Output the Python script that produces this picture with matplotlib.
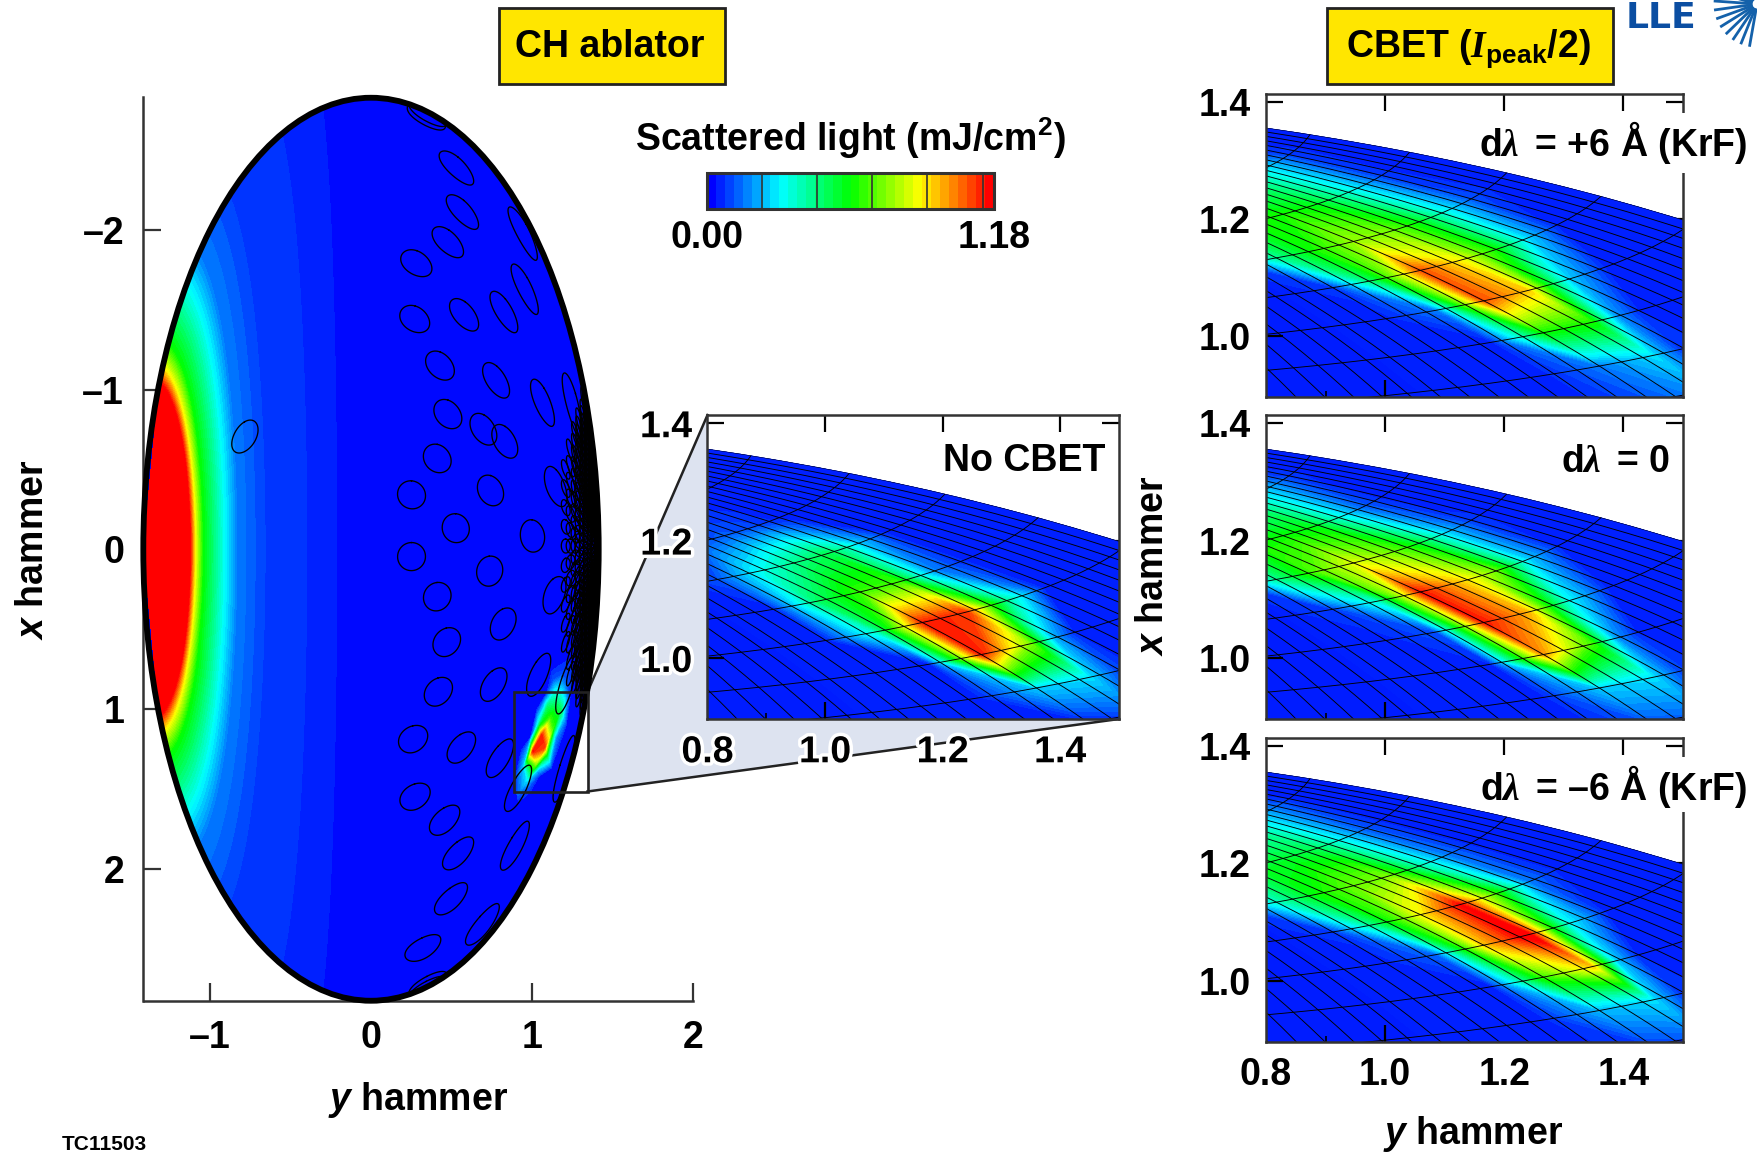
import numpy as np
import matplotlib
matplotlib.use('Agg')
import matplotlib.pyplot as plt
import matplotlib.patheffects as pe
from matplotlib.cm import ScalarMappable
from matplotlib.colors import LinearSegmentedColormap, Normalize
from matplotlib.patches import Ellipse, Polygon, Rectangle

plt.rcParams['font.family'] = ['Liberation Sans', 'DejaVu Sans']
plt.rcParams['font.weight'] = 'bold'
plt.rcParams['font.size'] = 27
plt.rcParams['mathtext.fontset'] = 'custom'
plt.rcParams['mathtext.rm'] = 'Liberation Sans:bold'
plt.rcParams['mathtext.bf'] = 'Liberation Sans:bold'
plt.rcParams['mathtext.it'] = 'Liberation Sans:italic:bold'
plt.rcParams['mathtext.cal'] = 'Liberation Serif:italic:bold'

W, H = 1758, 1152
DARK = '#333333'

# scattered light vs latitude on the big map (value 1 = red end of the scale)
left_lat = [-90, -68.4, -66.2, -62.9, -54, -49.2, -43, -38.4, -23, -12.2, 0, 90]
left_val = [1.2, 1.0, 0.75, 0.5, 0.25, 0.125, 0.088, 0.0625, 0.0417, 0.0208, 0.0, 0.0]

# zoomed panels: rows are latitudes, columns are longitudes
field_lon = [90, 100, 110, 120, 130, 135, 140, 150, 160, 170, 180]
field_lat = [46.8, 50.4, 54, 57.6, 61.2, 64.8, 68.4, 72, 75.6]
no_cbet = [
    [.03, .03, .03, .03, .08, .03, .03, .03, .03, .03, .03],
    [.03, .03, .04, .20, .22, .08, .03, .03, .03, .03, .03],
    [.03, .03, .03, .98, .62, .18, .03, .03, .03, .03, .03],
    [.03, .03, .30, .97, .95, .60, .35, .04, .03, .03, .03],
    [.03, .03, .40, .55, .55, .30, .13, .03, .03, .03, .03],
    [.03, .08, .25, .36, .42, .33, .20, .03, .03, .03, .03],
    [.03, .04, .07, .09, .07, .05, .03, .03, .03, .03, .03],
    [.03, .03, .03, .03, .03, .03, .03, .03, .03, .03, .03],
    [.03, .03, .03, .03, .03, .03, .03, .03, .03, .03, .03],
]
dl_plus6 = [
    [.03, .03, .03, .08, .15, .07, .04, .03, .03, .03, .03],
    [.03, .03, .03, .12, .22, .06, .04, .03, .03, .03, .03],
    [.03, .03, .03, .50, .52, .15, .04, .03, .03, .03, .03],
    [.03, .03, .12, .92, .80, .45, .20, .03, .03, .03, .03],
    [.03, .05, .45, .92, .75, .62, .50, .20, .03, .03, .03],
    [.05, .35, .52, .65, .62, .55, .47, .25, .08, .03, .03],
    [.15, .42, .50, .52, .48, .42, .35, .20, .05, .03, .03],
    [.03, .10, .20, .32, .35, .32, .28, .18, .06, .03, .03],
    [.03, .03, .03, .03, .03, .03, .03, .03, .03, .03, .03],
]
dl_zero = [
    [.03, .03, .03, .08, .11, .06, .04, .03, .03, .03, .03],
    [.03, .03, .03, .20, .22, .07, .04, .03, .03, .03, .03],
    [.03, .03, .04, .85, .55, .15, .03, .03, .03, .03, .03],
    [.03, .03, .08, .98, .82, .50, .25, .04, .03, .03, .03],
    [.03, .06, .30, .98, .80, .70, .60, .20, .04, .03, .03],
    [.05, .35, .58, .72, .62, .55, .45, .20, .05, .03, .03],
    [.15, .40, .50, .50, .48, .38, .28, .10, .03, .03, .03],
    [.03, .10, .20, .30, .33, .30, .25, .15, .05, .03, .03],
    [.03, .03, .03, .03, .03, .03, .03, .03, .03, .03, .03],
]
dl_minus6 = [
    [.03, .03, .03, .06, .10, .05, .04, .03, .03, .03, .03],
    [.03, .03, .03, .18, .22, .06, .04, .03, .03, .03, .03],
    [.03, .03, .03, .55, .80, .20, .03, .03, .03, .03, .03],
    [.03, .03, .10, .80, 1.05, .55, .25, .03, .03, .03, .03],
    [.03, .05, .40, .75, 1.00, .75, .55, .12, .03, .03, .03],
    [.05, .30, .50, .60, .62, .48, .33, .12, .03, .03, .03],
    [.12, .35, .45, .45, .42, .35, .26, .10, .03, .03, .03],
    [.03, .08, .20, .28, .30, .26, .22, .12, .04, .03, .03],
    [.03, .03, .03, .03, .03, .03, .03, .03, .03, .03, .03],
]

# beam footprints on the big map, centre positions in hammer units
beam_h = [.345, .532, .569, .945, .478, .282, .957, .827, .579, .272, .429, .778,
          1.067, 1.252, .478, .699, .832, .412, -.784, 1.149, .743, .252, .527,
          1.004, .252, .738, .412, 1.141, .822, .471, .419, .763, 1.043, 1.215,
          .262, .562, .802, 1.203, .915, .274, .458, .542, .896, .498, .694,
          .323, .355]
beam_v = [-2.716, -2.393, -2.116, -1.983, -1.926, -1.793, -1.633, -1.489, -1.47,
          -1.443, -1.151, -1.059, -.919, -.904, -.847, -.752, -.676, -.569, -.706,
          -.391, -.368, -.341, -.132, -.083, .046, .137, .297, .286, .468, .582,
          .893, .848, .787, .848, 1.19, 1.243, 1.311, 1.38, 1.501, 1.551, 1.699,
          1.908, 1.862, 2.193, 2.356, 2.501, 2.736]
beam_radius = 5.0

# small dense footprints near the pole: column position, first row, last row, row step
cluster_h = [1.21, 1.24, 1.27, 1.295, 1.32, 1.345, 1.37, 1.39, 1.41]
cluster_v_from = [-.50, -.62, -.72, -.80, -.85, -.85, -.80, -.60, -.45]
cluster_v_to = [.70, .80, .88, .94, .97, .95, .82, .62, .48]
cluster_step = [.12, .10, .07, .05, .04, .032, .03, .03, .03]
cluster_radius = 2.0

merid_lon = np.arange(180, 50, -4.0)
parallel_lat = np.arange(46.8, 80, 3.6)

x_ticks = [0.8, 1.0, 1.2, 1.4]
x_tick_txt = ['0.8', '1.0', '1.2', '1.4']
y_ticks = [1.0, 1.2, 1.4]
y_tick_txt = ['1.0', '1.2', '1.4']
main_xticks = [-1, 0, 1, 2]
main_xlabels = ['\u20131', '0', '1', '2']
main_yticks = [-2, -1, 0, 1, 2]
main_ylabels = ['\u20132', '\u20131', '0', '1', '2']
cbar_ticks = [0.2266, 0.4532, 0.6795, 0.9065, 1.1335]
ray_angles = [92, 104, 116, 128, 140, 152, 164, 176, 188, 200, 212, 224, 236, 248, 260]

cmap = LinearSegmentedColormap.from_list('scatter', ['#0000ff', '#00ffff', '#00ff00', '#ffff00', '#ff0000'], N=256)
cmap.set_over('#ff0000')
levels = np.linspace(0, 1, 49)


def hammer(lon, lat):
    lam = np.radians(lon)
    phi = np.radians(lat)
    d = np.sqrt(1 + np.cos(phi) * np.cos(lam / 2))
    return 2 * np.sqrt(2) * np.cos(phi) * np.sin(lam / 2) / d, np.sqrt(2) * np.sin(phi) / d


def hammer_inv(x, y):
    z = np.sqrt(1 - (x / 4) ** 2 - (y / 2) ** 2)
    return np.degrees(2 * np.arctan2(z * x, 2 * (2 * z ** 2 - 1))), np.degrees(np.arcsin(z * y))


def footprint(h, v, radius):
    # circle on the sphere, mapped back through the projection
    lon, lat = np.radians(hammer_inv(v, h))
    c = np.array([np.cos(lat) * np.cos(lon), np.cos(lat) * np.sin(lon), np.sin(lat)])
    e1 = np.cross(c, [0, 0, 1])
    e1 = e1 / np.linalg.norm(e1)
    e2 = np.cross(c, e1)
    t = np.linspace(0, 2 * np.pi, 61)
    r = np.radians(radius)
    p = np.cos(r) * c[:, None] + np.sin(r) * (np.outer(e1, np.cos(t)) + np.outer(e2, np.sin(t)))
    plon = np.degrees(np.arctan2(p[1], p[0]))
    plat = np.degrees(np.arcsin(p[2]))
    xx, yy = hammer(plon, plat)
    jump = np.where(np.abs(np.diff(plon)) > 180)[0] + 1
    return np.insert(yy, jump, np.nan), np.insert(xx, jump, np.nan)


def px_axes(fig, left, top, right, bottom, **kw):
    return fig.add_axes([left / W, 1 - bottom / H, (right - left) / W, (bottom - top) / H], **kw)


def draw_panel(ax, table, halo=False, xlabels=False):
    ax.set_xlim(0.8, 1.5)
    ax.set_ylim(0.896, 1.414)
    limb = Ellipse((0, 0), 4 * np.sqrt(2), 2 * np.sqrt(2), fc=cmap(0.03), ec='none', zorder=1)
    ax.add_patch(limb)
    lon_m, lat_m = np.meshgrid(field_lon, field_lat)
    X, Y = hammer(lon_m, lat_m)
    cs = ax.contourf(X, Y, np.array(table), levels=levels, cmap=cmap, vmin=0, vmax=1, extend='max', zorder=2)
    cs.set_clip_path(limb)
    for lo in merid_lon:
        la = np.linspace(30, 90, 200)
        gx, gy = hammer(lo, la)
        l, = ax.plot(gx, gy, color='k', lw=0.65, zorder=3)
        l.set_clip_path(limb)
    for la in parallel_lat:
        lo = np.linspace(40, 180, 200)
        gx, gy = hammer(lo, la)
        l, = ax.plot(gx, gy, color='k', lw=0.65, zorder=3)
        l.set_clip_path(limb)
    for s in ax.spines.values():
        s.set_color(DARK)
        s.set_linewidth(1.8)
        s.set_zorder(6)
    ax.set_xticks(x_ticks)
    ax.set_yticks(y_ticks)
    ax.set_xticklabels(x_tick_txt if xlabels else [])
    ax.set_yticklabels(y_tick_txt)
    ax.tick_params(direction='in', length=12, width=1.6, top=True, right=True, pad=11, zorder=6)
    for t in ax.xaxis.get_major_ticks():
        t.tick1line.set_color('white')
        t.tick2line.set_color(DARK)
        if t.get_loc() < 0.9:
            t.tick1line.set_visible(False)
            t.tick2line.set_visible(False)
    for t in ax.yaxis.get_major_ticks():
        col = DARK if t.get_loc() > 1.3 else 'white'
        t.tick1line.set_color(col)
        t.tick2line.set_color(col)
    ax.set_xticks([0.9, 1.1, 1.3], minor=True)
    ax.set_yticks([1.1, 1.3], minor=True)
    ax.tick_params(which='minor', direction='in', length=4, width=1.2, color='k')
    if halo:
        for t in ax.get_xticklabels() + ax.get_yticklabels():
            t.set_path_effects([pe.withStroke(linewidth=5, foreground='white')])


fig = plt.figure(figsize=(W / 100, H / 100), dpi=100)

# background layer: magnifier wedge
back = fig.add_axes([0, 0, 1, 1], zorder=0)
back.set_xlim(0, W)
back.set_ylim(H, 0)
back.axis('off')
back.add_patch(Polygon([(587.5, 692), (707.5, 415), (707.5, 719), (1119, 719), (587.5, 791.5)], fc='#dde3f0', ec='none'))
back.plot([587.5, 707.5], [692, 415], color='#222222', lw=1.8)
back.plot([587.5, 1119], [791.5, 719], color='#222222', lw=1.8)

# big map
ax = px_axes(fig, 143.5, 97.5, 693, 1001, zorder=1)
ax.patch.set_alpha(0)
ax.set_xlim(-1.413, 2.0)
ax.set_ylim(2.83, -2.83)
outline = Ellipse((0, 0), 2 * np.sqrt(2), 4 * np.sqrt(2), fc=cmap(0.01), ec='none', zorder=1)
ax.add_patch(outline)
lon_big, lat_big = np.meshgrid(np.linspace(-180, 180, 181), left_lat)
Xb, Yb = hammer(lon_big, lat_big)
val_big = np.tile(np.array(left_val)[:, None], (1, 181))
cs = ax.contourf(Yb, Xb, val_big, levels=levels, cmap=cmap, vmin=0, vmax=1, extend='max', zorder=2)
cs.set_clip_path(outline)
lon_m, lat_m = np.meshgrid(field_lon, field_lat)
Xs, Ys = hammer(lon_m, lat_m)
cs2 = ax.contourf(Ys, Xs, np.array(no_cbet), levels=levels[2:], cmap=cmap, vmin=0, vmax=1, extend='max', zorder=3)
cs2.set_clip_path(outline)
for h, v in zip(beam_h, beam_v):
    bx, by = footprint(h, v, beam_radius)
    l, = ax.plot(bx, by, color='k', lw=0.95, zorder=4)
    l.set_clip_path(outline)
for h, v0, v1, step in zip(cluster_h, cluster_v_from, cluster_v_to, cluster_step):
    for v in np.arange(v0, v1, step):
        bx, by = footprint(h, v, cluster_radius)
        l, = ax.plot(bx, by, color='k', lw=0.95, zorder=4)
        l.set_clip_path(outline)
ax.add_patch(Ellipse((0, 0), 2 * np.sqrt(2), 4 * np.sqrt(2), fc='none', ec='k', lw=4.2, zorder=5, clip_on=False))
ax.add_patch(Rectangle((0.89, 0.893), 0.456, 0.627, fc='none', ec='#222222', lw=1.9, zorder=6, clip_on=False))
ax.spines['top'].set_visible(False)
ax.spines['right'].set_visible(False)
for s in ['left', 'bottom']:
    ax.spines[s].set_color(DARK)
    ax.spines[s].set_linewidth(1.8)
ax.set_xticks(main_xticks)
ax.set_xticklabels(main_xlabels)
ax.set_yticks(main_yticks)
ax.set_yticklabels(main_ylabels)
ax.tick_params(direction='in', length=13, width=1.6, color=DARK, pad=14)

# zoomed panels
ax_inset = px_axes(fig, 707.5, 415, 1119, 719, zorder=2)
draw_panel(ax_inset, no_cbet, halo=True, xlabels=True)
ax_p6 = px_axes(fig, 1266, 94, 1683, 397, zorder=2)
draw_panel(ax_p6, dl_plus6)
ax_0 = px_axes(fig, 1266, 415, 1683, 719, zorder=2)
draw_panel(ax_0, dl_zero)
ax_m6 = px_axes(fig, 1266, 738, 1683, 1041.5, zorder=2)
draw_panel(ax_m6, dl_minus6, xlabels=True)

# colour bar
cax = px_axes(fig, 707, 173, 994, 209, zorder=2)
cb = fig.colorbar(ScalarMappable(Normalize(0, 1.18), LinearSegmentedColormap.from_list(
    'bar', ['#0000ff', '#00ffff', '#00ff00', '#ffff00', '#ff0000'], N=32)), cax=cax, orientation='horizontal')
cb.set_ticks(cbar_ticks)
cb.set_ticklabels([])
cb.ax.tick_params(direction='in', length=26, width=1.2, color=DARK, bottom=True)
cb.outline.set_edgecolor(DARK)
cb.outline.set_linewidth(2.2)

# text layer
top = fig.add_axes([0, 0, 1, 1], zorder=3)
top.set_xlim(0, W)
top.set_ylim(H, 0)
top.axis('off')
for x0, x1, txt, ty in [(499, 725.5, 'CH ablator', 47), (1327.5, 1613.5, 'CBET ($\\mathcal{I}_{\\mathbf{peak}}$/2)', 49)]:
    top.add_patch(Rectangle((x0, 8), x1 - x0, 76, fc='#ffe600', ec='#222222', lw=2))
    top.text((x0 + x1) / 2 - 2, ty, txt, ha='center', va='center')
top.text(850, 138.5, 'Scattered light (mJ/cm$^{\\mathbf{2}}$)', ha='center', va='center')
top.text(707.5, 237.5, '0.00', ha='center', va='center')
top.text(994.5, 237.5, '1.18', ha='center', va='center')
top.text(418, 1100, '$\\mathit{y}$ hammer', ha='center', va='center')
top.text(33, 549.5, '$\\mathit{x}$ hammer', ha='center', va='center', rotation=90)
top.text(1473, 1134, '$\\mathit{y}$ hammer', ha='center', va='center')
top.text(1153, 566, '$\\mathit{x}$ hammer', ha='center', va='center', rotation=90)
top.text(1105, 461, 'No CBET', ha='right', va='center')
top.text(1670.5, 462, 'd$\\mathcal{\\lambda}\\,$ = 0', ha='right', va='center')
# the long labels run over the right frame, which is broken behind them
top.add_patch(Rectangle((1676, 113), 14, 60, fc='white', ec='none'))
top.add_patch(Rectangle((1676, 757), 14, 55, fc='white', ec='none'))
top.text(1747, 142, 'd$\\mathcal{\\lambda}\\,$ = +6 \u00c5 (KrF)', ha='right', va='center')
top.text(1747, 786, 'd$\\mathcal{\\lambda}\\,$ = \u20136 \u00c5 (KrF)', ha='right', va='center')
top.text(62, 1145, 'TC11503', ha='left', va='center', fontsize=15)
top.text(1626, 28, 'LLE', ha='left', va='baseline', fontsize=26, color='#0b4ea2', family='DejaVu Sans')
for a in ray_angles:
    c, s = np.cos(np.radians(a)), np.sin(np.radians(a))
    top.plot([1757 + 6 * c, 1757 + 42 * c], [4 - 6 * s, 4 - 42 * s], color='#1461aa', lw=2)

fig.savefig('out.png', dpi=100)
